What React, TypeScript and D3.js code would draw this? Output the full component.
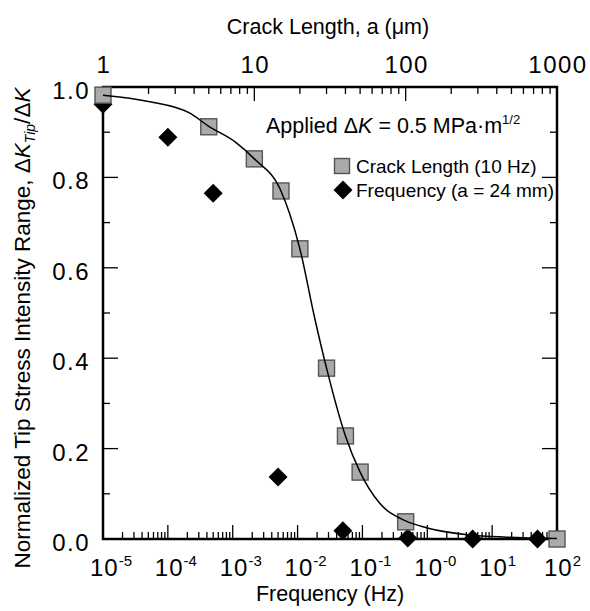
import React from 'react';
import * as d3 from 'd3';

// Crack-length series (top axis, µm) at 10 Hz
const crackLength = [1, 5, 10, 15, 20, 30, 40, 50, 100, 1000];
const crackRatio = [0.982, 0.912, 0.841, 0.77, 0.642, 0.378, 0.228, 0.148, 0.038, 0.0];

// Frequency series (bottom axis, Hz) at a = 24 mm
const frequency = [1e-5, 1e-4, 5e-4, 5e-3, 5e-2, 0.5, 5, 50];
const frequencyRatio = [0.962, 0.889, 0.765, 0.137, 0.018, 0.002, 0.0, 0.0];

// Fitted curve (crack length, ratio)
const fitCrackLength = [1, 2, 3.75, 5, 7.5, 10, 15, 17.1, 20, 25, 30, 40, 50, 67, 100, 137, 264, 464, 1000];
const fitRatio = [0.982, 0.968, 0.942, 0.913, 0.878, 0.841, 0.77, 0.72, 0.642, 0.49, 0.378, 0.228, 0.148, 0.08, 0.04, 0.025, 0.009, 0.004, 0.001];

const yTickValues = [0, 0.2, 0.4, 0.6, 0.8, 1.0];
const yTickLabels = ['0.0', '0.2', '0.4', '0.6', '0.8', '1.0'];
const topTickValues = [1, 10, 100, 1000];
const topTickLabels = ['1', '10', '100', '1000'];
const bottomTickValues = [1e-5, 1e-4, 1e-3, 1e-2, 1e-1, 1e0, 1e1, 1e2];
const bottomTickExponents = ['-5', '-4', '-3', '-2', '-1', '-0', '1', '2'];

const FONT = "'Liberation Sans', Arial, Helvetica, sans-serif";

export default function App() {
  const left = 103, right = 557, top = 87, bottom = 539;
  const xF = d3.scaleLog().domain([1e-5, 1e2]).range([left, right]);
  const xA = d3.scaleLog().domain([1, 1000]).range([left, right]);
  const y = d3.scaleLinear().domain([0, 1]).range([bottom, top]);

  const minorF: number[] = [];
  for (let e = -5; e < 2; e++) for (let k = 2; k <= 9; k++) minorF.push(k * Math.pow(10, e));
  const minorA: number[] = [];
  for (let e = 0; e < 3; e++) for (let k = 2; k <= 9; k++) minorA.push(k * Math.pow(10, e));
  const yMinor = d3.range(1, 10, 2).map((i) => i / 10);

  const fitPoints: [number, number][] = fitCrackLength.map((a, i) => [a, fitRatio[i]]);
  const line = d3
    .line<[number, number]>()
    .x((d) => xA(d[0]))
    .y((d) => y(d[1]))
    .curve(d3.curveMonotoneX);

  const sq = 16;
  const dm = 9.5;
  const diamond = (cx: number, cy: number, r: number) =>
    `M${cx},${cy - r}L${cx + r},${cy}L${cx},${cy + r}L${cx - r},${cy}Z`;

  return (
    <svg
      width={590}
      height={611}
      style={{ position: 'absolute', left: 0, top: 0, background: '#fff' }}
      fontFamily={FONT}
    >
      <rect x={0} y={0} width={590} height={611} fill="#fff" />
      {/* ticks */}
      <g stroke="#000" strokeWidth={1.3}>
        {minorF.map((v, i) => (
          <line key={'bf' + i} x1={xF(v)} x2={xF(v)} y1={bottom} y2={bottom - 7} />
        ))}
        {bottomTickValues.slice(1, -1).map((v, i) => (
          <line key={'bM' + i} x1={xF(v)} x2={xF(v)} y1={bottom} y2={bottom - 14} />
        ))}
        {minorA.map((v, i) => (
          <line key={'ta' + i} x1={xA(v)} x2={xA(v)} y1={top} y2={top + 7} />
        ))}
        {topTickValues.slice(1, -1).map((v, i) => (
          <line key={'tM' + i} x1={xA(v)} x2={xA(v)} y1={top} y2={top + 14} />
        ))}
        {yMinor.map((v, i) => (
          <g key={'ym' + i}>
            <line x1={left} x2={left + 7} y1={y(v)} y2={y(v)} />
            <line x1={right} x2={right - 7} y1={y(v)} y2={y(v)} />
          </g>
        ))}
        {yTickValues.slice(1, -1).map((v, i) => (
          <g key={'yM' + i}>
            <line x1={left} x2={left + 15} y1={y(v)} y2={y(v)} />
            <line x1={right} x2={right - 15} y1={y(v)} y2={y(v)} />
          </g>
        ))}
      </g>
      {/* frame */}
      <rect x={left} y={top} width={right - left} height={bottom - top} fill="none" stroke="#000" strokeWidth={2.5} />

      {/* frequency diamonds */}
      {frequency.map((f, i) => (
        <path key={'d' + i} d={diamond(xF(f), y(frequencyRatio[i]), dm)} fill="#000" />
      ))}
      {/* crack-length squares */}
      {crackLength.map((a, i) => (
        <rect
          key={'s' + i}
          x={xA(a) - sq / 2}
          y={y(crackRatio[i]) - sq / 2}
          width={sq}
          height={sq}
          fill="#aaaaaa"
          stroke="#555"
          strokeWidth={1.4}
        />
      ))}
      {/* fit curve */}
      <path d={line(fitPoints) || ''} fill="none" stroke="#000" strokeWidth={1.5} />

      {/* y tick labels */}
      {yTickValues.map((v, i) => (
        <text key={'yl' + i} x={90} y={y(v) + 12} fontSize={24} letterSpacing={1.5} textAnchor="end" fill="#000">
          {yTickLabels[i]}
        </text>
      ))}
      {/* top tick labels */}
      {topTickValues.map((v, i) => (
        <text key={'tl' + i} x={xA(v) + 1} y={73} fontSize={24} letterSpacing={1.5} textAnchor="middle" fill="#000">
          {topTickLabels[i]}
        </text>
      ))}
      {/* bottom tick labels */}
      {bottomTickValues.map((v, i) => (
        <text key={'bl' + i} x={xF(v) - 13} y={576} fontSize={24} letterSpacing={1} textAnchor="start" fill="#000">
          10
          <tspan dy={-10} fontSize={15} letterSpacing={0}>
            {bottomTickExponents[i]}
          </tspan>
        </text>
      ))}

      {/* axis titles */}
      <text x={328} y={34} fontSize={21.5} textAnchor="middle" fill="#000">
        Crack Length, a (μm)
      </text>
      <text x={330} y={601} fontSize={21.5} textAnchor="middle" fill="#000">
        Frequency (Hz)
      </text>
      <text transform="translate(30,328) rotate(-90)" fontSize={22.5} textAnchor="middle" fill="#000">
        Normalized Tip Stress Intensity Range, Δ<tspan fontStyle="italic">K</tspan>
        <tspan fontStyle="italic" fontSize={14} dy={5}>Tip</tspan>
        <tspan dy={-5}>/Δ</tspan>
        <tspan fontStyle="italic">K</tspan>
      </text>

      {/* annotation */}
      <text x={266} y={133} fontSize={21.5} fill="#000">
        Applied Δ<tspan fontStyle="italic">K</tspan> = 0.5 MPa·m
        <tspan fontSize={13} dy={-9}>1/2</tspan>
      </text>

      {/* legend */}
      <rect x={342 - 7.5} y={166 - 7.5} width={15} height={15} fill="#aaaaaa" stroke="#555" strokeWidth={1.4} />
      <text x={356} y={173} fontSize={19} fill="#000">
        Crack Length (10 Hz)
      </text>
      <path d={diamond(343, 190, 9.5)} fill="#000" />
      <text x={356} y={197} fontSize={19} fill="#000">
        Frequency (a = 24 mm)
      </text>
    </svg>
  );
}
